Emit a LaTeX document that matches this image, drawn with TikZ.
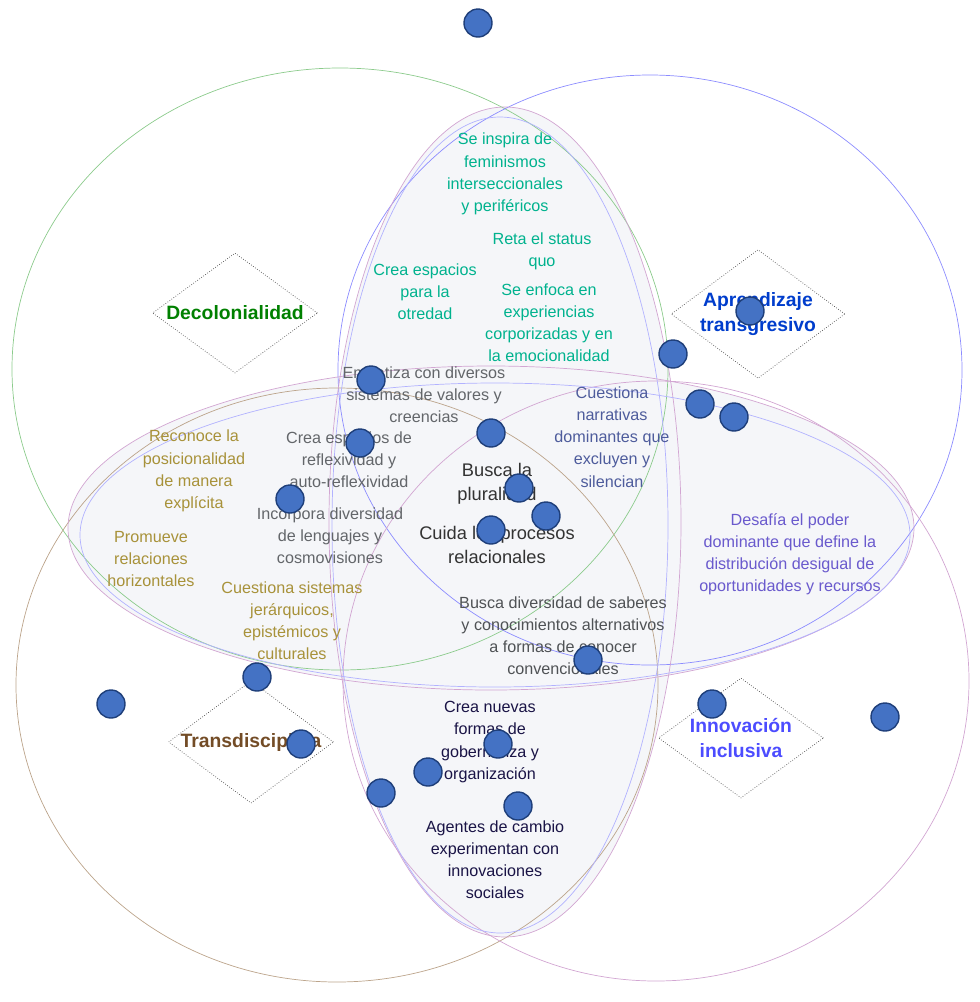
\documentclass[tikz,border=0pt]{standalone}
\usepackage{fontspec}
\setmainfont{Liberation Sans}
\usetikzlibrary{shapes.geometric,positioning}
\definecolor{dotblue}{HTML}{4472C4}
\definecolor{dotedge}{HTML}{1F3F7A}
\definecolor{tealtxt}{HTML}{00B28E}
\definecolor{goldtxt}{HTML}{A8923A}
\definecolor{graytxt}{HTML}{63666A}
\definecolor{slatetxt}{HTML}{4E5C9C}
\definecolor{violettxt}{HTML}{6A5ACD}
\definecolor{navytxt}{HTML}{1A1446}
\definecolor{areafill}{HTML}{F5F6F9}
\begin{document}
\begin{tikzpicture}[x=0.02cm, y=-0.02cm]
      \tikzset{
	  txt/.style={align=center, font=\fontsize{9.2}{12.6}\selectfont, inner sep=0pt},
	  bigtxt/.style={align=center, font=\fontsize{10.4}{13.4}\selectfont, inner sep=0pt, text=black!80},
	  title/.style={diamond, draw=black!70, densely dotted, aspect=1.35, minimum width=3.3cm, minimum height=2.4cm, align=center, font=\fontsize{11}{14}\selectfont\bfseries, inner sep=0pt},
	  dot/.style={circle, fill=dotblue, draw=dotedge, thick, minimum size=0.56cm, inner sep=0pt}
      }
      \useasboundingbox (0,0) rectangle (980,1002);
      % shaded overlap areas
      \fill[areafill] (505,522) ellipse [x radius=176, y radius=415];
      \fill[areafill] (491,528) ellipse [x radius=423, y radius=162];
      % big circles
      \draw[green!55!black!45] (340,369) ellipse [x radius=328, y radius=301];
      \draw[blue!45!white] (650,370) ellipse [x radius=312, y radius=295];
      \draw[brown!70!black!55] (337,685) ellipse [x radius=321, y radius=297];
      \draw[violet!35!white] (656,681) ellipse [x radius=313, y radius=300];
      % central ellipses
      \draw[violet!35!white] (505,522) ellipse [x radius=176, y radius=415];
      \draw[blue!30!white] (500,525) ellipse [x radius=168, y radius=408];
      \draw[violet!35!white] (491,528) ellipse [x radius=423, y radius=162];
      \draw[blue!30!white] (495,535) ellipse [x radius=415, y radius=152];

      % texts
      \node at (505,174) [txt, text=tealtxt] (fem) {Se inspira de\\feminismos\\interseccionales\\y periféricos};
      \node at (542,251) [txt, text=tealtxt] (reta) {Reta el status\\quo};
      \node at (425,292) [txt, text=tealtxt] (otredad) {Crea espacios\\para la\\otredad};
      \node at (549,323) [txt, text=tealtxt] (enfoca) {Se enfoca en\\experiencias\\corporizadas y en\\la emocionalidad};
      \node at (424,395) [txt, text=graytxt] (empatiza) {Empatiza con diversos\\sistemas de valores y\\creencias};
      \node at (612,437) [txt, text=slatetxt] (narrativas) {Cuestiona\\narrativas\\dominantes que\\excluyen y\\silencian};
      \node at (194,471) [txt, text=goldtxt] (reconoce) {Reconoce la\\posicionalidad\\de manera\\explícita};
      \node at (349,460) [txt, text=graytxt] (reflex) {Crea espacios de\\reflexividad y\\auto-reflexividad};
      \node at (497,484) [bigtxt] (plural) {Busca la\\pluralidad};
      \node at (330,536) [txt, text=graytxt] (lenguajes) {Incorpora diversidad\\de lenguajes y\\cosmovisiones};
      \node at (497,545) [bigtxt] (cuida) {Cuida los procesos\\relacionales};
      \node at (151,559) [txt, text=goldtxt] (promueve) {Promueve\\relaciones\\horizontales};
      \node at (790,554) [txt, text=violettxt] (desafia) {Desafía el poder\\dominante que define la\\distribución desigual de\\oportunidades y recursos};
      \node at (292,621) [txt, text=goldtxt] (jerarq) {Cuestiona sistemas\\jerárquicos,\\epistémicos y\\culturales};
      \node at (563,636) [txt, text=graytxt!80!black] (saberes) {Busca diversidad de saberes\\y conocimientos alternativos\\a formas de conocer\\convencionales};
      \node at (490,742) [txt, text=navytxt] (gobern) {Crea nuevas\\formas de\\gobernanza y\\organización};
      \node at (495,860) [txt, text=navytxt] (agentes) {Agentes de cambio\\experimentan con\\innovaciones\\sociales};

      % titles
      \node at (235,313) [title, text=green!50!black] (deco) {Decolonialidad};
      \node at (758,314) [title, text=blue!70!cyan!80!black] (aprend) {Aprendizaje\\transgresivo};
      \node at (251,742) [title, text=brown!60!black] (trans) {Transdisciplina};
      \node at (741,738) [title, text=blue!70!white] (innov) {Innovación\\inclusiva};

      % dots
      \foreach \x/\y [count=\i] in {478/23, 750/311, 673/354, 371/380, 700/404, 734/417, 360/443, 491/433, 290/499, 519/488, 546/516, 491/530, 588/660, 257/677, 111/704, 712/704, 885/717, 301/744, 498/744, 428/772, 381/793, 518/806}
	  \node at (\x,\y) [dot] (d\i) {};
\end{tikzpicture}
\end{document}
